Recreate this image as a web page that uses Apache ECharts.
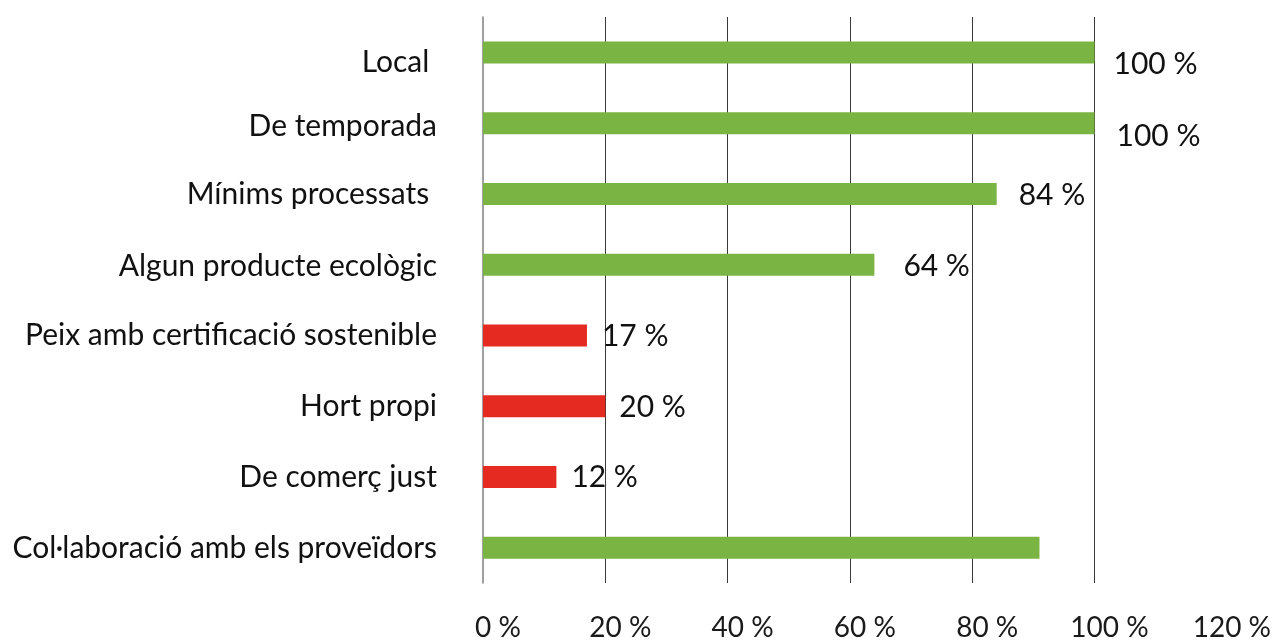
<!DOCTYPE html>
<html>
<head>
<meta charset="utf-8">
<script src="https://cdn.jsdelivr.net/npm/echarts@6/dist/echarts.min.js"></script>
<style>
  html, body { margin: 0; padding: 0; background: #fff; }
  #chart { width: 1274px; height: 642px; }
</style>
</head>
<body>
<div id="chart"></div>
<script>
// categories top to bottom
const categories = [
    "Local ",
    "De temporada",
    "Mínims processats ",
    "Algun producte ecològic",
    "Peix amb certificació sostenible",
    "Hort propi",
    "De comerç just",
    "Col·laboració amb els proveïdors"
];
const values = [100, 100, 84, 64, 17, 20, 12, 91];
const isRed = [false, false, false, false, true, true, true, false];
const showValue = [true, true, true, true, true, true, true, false];
const xTicks = [0, 20, 40, 60, 80, 100, 120];

const GREEN = "#7ab443";
const RED = "#e52a22";

// label nudges (dx, dy) to follow the original placement
const labelNudge = [[19, 12], [22, 13], [22, 1], [29, 2], [15, 1], [14, 1], [15, 0], [0, 0]];
const catPadTop = [20, 6, 0, 4, 0, 0, 0, 2];

const chart = echarts.init(document.getElementById("chart"));

// echarts draws category axis bottom-up, so reverse
const n = categories.length;
const order = categories.map((_, i) => n - 1 - i);

const rich = {};
categories.forEach((c, i) => {
    rich["p" + i] = {
        color: "#111",
        fontFamily: "Lato",
        fontSize: 30,
        padding: [catPadTop[i], 0, 0, 0]
    };
});

const option = {
    animation: false,
    grid: { left: 483, right: 55, top: 17, bottom: 58, containLabel: false },
    xAxis: {
        type: "value",
        min: xTicks[0],
        max: xTicks[xTicks.length - 1],
        interval: 20,
        axisLine: { show: false },
        axisTick: { show: false },
        axisLabel: {
            formatter: v => v + " %",
            color: "#1a1a1a",
            fontFamily: "Lato",
            fontSize: 28,
            margin: 31,
            padding: [0, 0, 0, 30]
        },
        splitLine: {
            show: true,
            showMinLine: false,
            showMaxLine: false,
            lineStyle: { color: "#3a3a3a", width: 1 }
        }
    },
    yAxis: {
        type: "category",
        data: order.map(i => categories[i]),
        axisLine: { show: true, lineStyle: { color: "#808080", width: 1.5 } },
        axisTick: { show: false },
        axisLabel: {
            color: "#111",
            fontFamily: "Lato",
            fontSize: 30,
            margin: 46,
            formatter: v => "{p" + categories.indexOf(v) + "|" + v + "}",
            rich: rich
        }
    },
    series: [{
        type: "bar",
        barWidth: 22,
        data: order.map(i => ({
            value: values[i],
            itemStyle: { color: isRed[i] ? RED : GREEN },
            label: {
                show: showValue[i],
                position: "right",
                distance: labelNudge[i][0],
                offset: [0, labelNudge[i][1]],
                formatter: "{c} %",
                color: "#111",
                fontFamily: "Lato",
                fontSize: 30
            }
        }))
    }]
};

chart.setOption(option);
</script>
</body>
</html>
